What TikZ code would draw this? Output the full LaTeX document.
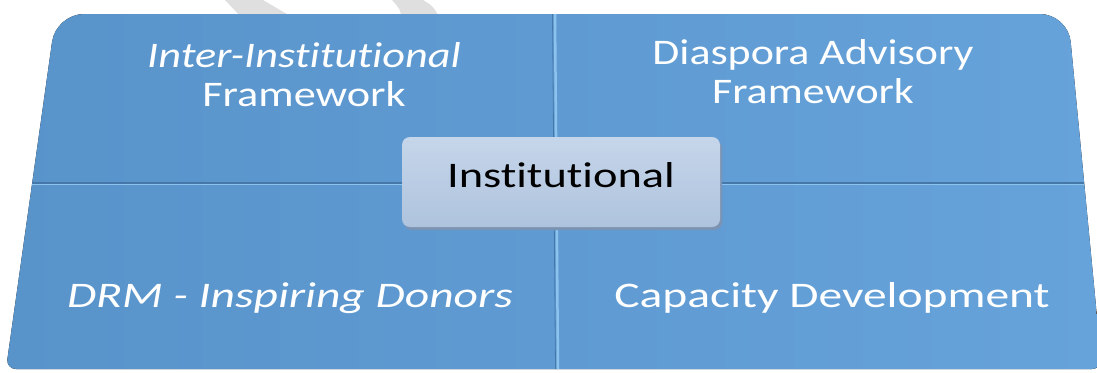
\documentclass[tikz,border=0pt]{standalone}
\usepackage{fontspec}
\setmainfont{Carlito}[RawFeature={-liga;-calt;-dlig}]
\usepackage{graphicx}
\usetikzlibrary{calc,shadows}
\definecolor{quadblue}{HTML}{5893CA}
\definecolor{quadblueR}{HTML}{66A3DA}
\definecolor{hubtop}{HTML}{C6D6EA}
\definecolor{hubbot}{HTML}{AEC3DD}
\definecolor{hubshade}{HTML}{7C93B3}
\definecolor{seamdark}{HTML}{4677A9}
\definecolor{seamlight}{HTML}{8CC3EE}
\definecolor{wmgrey}{HTML}{DFDFDF}
\newcommand{\wide}[2]{\scalebox{#1}[1]{#2}}
\tikzset{
    quad/.style = {text=white, inner sep=0pt, align=center,
        font=\fontsize{36}{39}\selectfont},
    hub/.style = {rectangle, rounded corners=8pt,
        top color=hubtop, bottom color=hubbot,
        minimum width=318pt, minimum height=90pt, text depth=14pt,
        font=\fontsize{36}{39}\selectfont,
        drop shadow={shadow xshift=2pt, shadow yshift=-3pt, fill=hubshade, opacity=1}},
    seam/.style = {line width=2pt}
}

\begin{document}
\begin{tikzpicture}[x=1pt,y=-1pt]
    \useasboundingbox (0,0) rectangle (1097,372);
    \fill[wmgrey] (225,0) -- (263,0) -- (297,20) -- (244,20) -- cycle;
    \fill[wmgrey] (392,0) -- (423,0) .. controls (433,6) .. (441,20) -- (402,20) .. controls (400,9) .. (392,0) -- cycle;
    \coordinate (tl) at (56,14);
    \coordinate (tr) at (1068,14);
    \coordinate (br) at (1102,369);
    \coordinate (bl) at (6,369);
    \coordinate (midb) at (558,369);
    \coordinate (midt) at (555,14);
    \fill[left color=quadblue, right color=quadblueR] (midb) [rounded corners=10pt] -- (bl) [rounded corners=28pt] -- (tl) -- (tr) [rounded corners=10pt] -- (br) -- cycle;
    \coordinate (ml) at ($(bl)!0.524!(tl)$);
    \coordinate (mr) at ($(br)!0.524!(tr)$);
    \draw[seam, seamdark] (ml) -- (mr);
    \draw[seamlight, line width=1pt] ([yshift=-2pt]ml) -- ([yshift=-2pt]mr);
    \draw[seamdark, line width=0.8pt] ([xshift=-2.5pt]midt) -- ([xshift=-2.5pt]midb);
    \draw[seam, seamlight, line width=2.5pt] (midt) -- (midb);
    \node[quad] (iif) at (304,75) {{\itshape\wide{1.23}{Inter-Institutional}}\\\wide{1.23}{Framework}};
    \node[quad] (daf) at (813,72) {\wide{1.22}{Diaspora Advisory}\\\wide{1.22}{Framework}};
    \node[quad, anchor=base] (drm) at (290,307) {\itshape\wide{1.32}{DRM - Inspiring Donors}};
    \node[quad, anchor=base] (cap) at (832,307) {\wide{1.32}{Capacity Development}};
    \node[hub] (inst) at (561,182) {\wide{1.29}{Institutional}};
\end{tikzpicture}
\end{document}
